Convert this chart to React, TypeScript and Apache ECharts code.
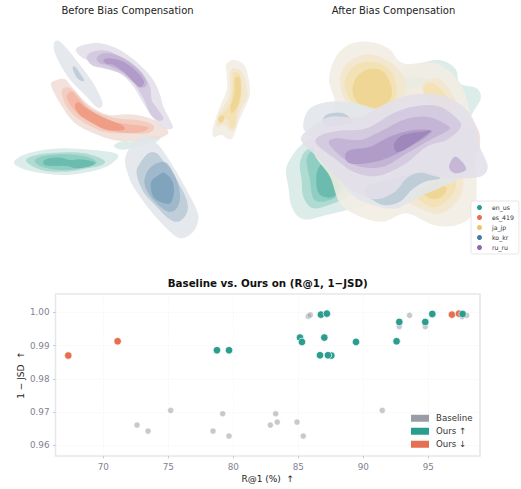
import React, { useEffect, useRef } from "react";
import * as echarts from "echarts";

type P = number[][];

const languages = ["en_us", "es_419", "ja_jp", "ko_kr", "ru_ru"];
const langColors = ["#2a9d8f", "#e76f51", "#e9c46a", "#457b9d", "#8e6bb0"];
const layerColors: Record<string, string[]> = {
  en_us: ["#d6e9e6", "#a9d8cf", "#8accc0", "#66b9ab"],
  es_419: ["#f1ddd7", "#f3c9bc", "#f2b5a3", "#ef9882"],
  ja_jp: ["#f2ede2", "#f3e7cc", "#f2e0b3", "#efd48f"],
  ko_kr: ["#e1e6ea", "#b9cad6", "#9bb5c8", "#7ca0b9"],
  ru_ru: ["#e3dfe9", "#d2c7de", "#c1b0d3", "#ae97c6", "#9b84b8"],
};

// contour = [level, points] in the embedding space of each panel
type Contour = { level: number; pts: P };

const beforeEn: Contour[] = [
  { level: 0, pts: [[42,488],[70,465],[130,450],[200,445],[280,450],[340,458],[355,468],[345,482],[320,500],[270,515],[200,525],[130,520],[70,507]] },
  { level: 0, pts: [[342,436],[365,424],[400,423],[430,412],[480,408],[470,425],[430,436],[380,448],[355,447]] },
  { level: 1, pts: [[78,480],[110,465],[170,458],[240,458],[290,470],[315,485],[300,497],[260,505],[200,515],[140,513],[100,500]] },
  { level: 2, pts: [[105,480],[130,468],[180,463],[230,465],[270,473],[290,487],[275,498],[240,505],[190,510],[145,505],[115,495]] },
  { level: 3, pts: [[130,485],[145,475],[180,473],[210,480],[240,478],[270,482],[285,490],[265,500],[230,505],[200,498],[160,498],[135,495]] },
];
const beforeEs: Contour[] = [
  { level: 0, pts: [[153,255],[170,240],[195,238],[215,260],[250,300],[290,330],[330,345],[390,343],[440,352],[480,370],[505,395],[490,410],[450,420],[400,423],[340,420],[270,395],[220,365],[180,310]] },
  { level: 1, pts: [[185,275],[200,262],[225,275],[260,315],[300,340],[350,355],[410,360],[450,370],[462,385],[440,400],[380,400],[310,395],[240,360],[200,320]] },
  { level: 2, pts: [[200,290],[215,275],[235,295],[270,330],[320,360],[380,372],[430,378],[445,385],[420,397],[360,397],[300,380],[245,350],[215,320]] },
  { level: 3, pts: [[225,320],[235,307],[260,325],[310,352],[365,375],[370,390],[320,390],[270,365],[240,345]] },
];
const beforeJa: Contour[] = [
  { level: 0, pts: [[678,195],[695,180],[720,185],[738,205],[750,265],[745,300],[722,350],[700,410],[685,418],[665,405],[640,410],[640,380],[660,320],[680,270],[680,220]] },
  { level: 1, pts: [[690,220],[700,205],[725,215],[738,250],[742,290],[720,335],[705,385],[690,392],[672,375],[650,380],[655,345],[685,295],[690,260]] },
  { level: 2, pts: [[700,220],[720,225],[725,260],[722,300],[710,340],[705,380],[690,382],[685,360],[665,350],[690,310],[697,270]] },
  { level: 3, pts: [[705,235],[720,235],[722,280],[712,320],[695,340],[692,320],[703,280]] },
  { level: 3, pts: [[655,355],[668,345],[672,360],[660,370]] },
];
const beforeKo: Contour[] = [
  { level: 0, pts: [[162,130],[175,122],[200,145],[240,195],[280,250],[305,300],[305,320],[290,322],[260,290],[220,250],[190,210],[165,160]] },
  { level: 1, pts: [[218,205],[225,200],[240,220],[252,240],[245,243],[230,232]] },
  { level: 0, pts: [[375,480],[385,450],[410,425],[430,405],[450,415],[480,440],[520,500],[560,570],[590,630],[595,660],[580,695],[545,715],[510,695],[450,630],[400,560],[380,510]] },
  { level: 1, pts: [[410,520],[420,490],[445,460],[470,460],[495,490],[530,540],[560,600],[560,640],[535,665],[505,655],[470,620],[430,575]] },
  { level: 2, pts: [[433,545],[445,510],[470,490],[500,490],[530,540],[540,590],[530,625],[505,635],[475,615],[445,580]] },
  { level: 3, pts: [[452,560],[457,540],[485,520],[495,520],[515,540],[522,575],[510,610],[480,605],[460,590]] },
];
const beforeRu: Contour[] = [
  { level: 0, pts: [[227,150],[250,135],[300,130],[360,150],[420,195],[460,240],[480,285],[490,320],[515,370],[517,385],[495,385],[460,355],[430,310],[400,260],[360,220],[300,195],[250,175]] },
  { level: 1, pts: [[260,170],[285,153],[330,155],[380,185],[425,220],[450,260],[455,300],[475,330],[490,355],[475,362],[450,340],[430,295],[400,250],[360,220],[310,205],[275,195]] },
  { level: 2, pts: [[290,175],[310,160],[350,165],[395,190],[430,225],[440,255],[420,262],[400,245],[365,215],[320,195],[300,190]] },
  { level: 3, pts: [[310,180],[330,175],[370,185],[410,215],[432,245],[420,262],[400,245],[370,215],[340,195],[320,192]] },
];

const afterEn: Contour[] = [
  { level: 0, pts: [[78,510],[95,470],[130,430],[200,390],[300,340],[370,270],[430,210],[530,180],[585,205],[600,250],[650,265],[662,295],[640,335],[600,400],[560,480],[500,540],[420,590],[300,620],[200,645],[130,658],[95,620],[85,560]] },
  { level: 1, pts: [[120,490],[140,450],[190,440],[240,480],[270,550],[260,590],[220,610],[160,625],[130,590],[125,540]] },
  { level: 2, pts: [[140,480],[160,450],[200,450],[240,500],[255,560],[230,590],[190,605],[160,595],[150,540]] },
  { level: 3, pts: [[170,520],[190,490],[220,510],[240,560],[220,590],[190,590],[172,570]] },
  { level: 1, pts: [[380,260],[440,230],[505,240],[510,265],[470,285],[420,290]] },
];
const afterEs: Contour[] = [
  { level: 0, pts: [[470,260],[540,270],[600,330],[650,380],[660,430],[640,470],[560,520],[440,540],[360,480],[380,380],[420,300]] },
];
const afterJa: Contour[] = [
  { level: 0, pts: [[207,240],[225,175],[265,135],[325,125],[385,145],[430,190],[530,190],[600,250],[630,340],[640,450],[650,560],[640,640],[590,675],[520,675],[440,640],[370,665],[300,650],[240,610],[210,530],[160,450],[200,360],[225,310]] },
  { level: 1, pts: [[240,240],[262,190],[320,163],[380,180],[425,220],[440,265],[420,310],[380,335],[320,345],[260,310]] },
  { level: 2, pts: [[255,240],[280,200],[330,185],[385,205],[410,260],[395,310],[340,330],[285,315],[260,280]] },
  { level: 3, pts: [[278,260],[295,225],[330,207],[370,215],[395,265],[385,305],[340,325],[300,315],[282,290]] },
  { level: 1, pts: [[490,250],[530,235],[570,270],[590,330],[530,340],[495,300]] },
  { level: 2, pts: [[490,265],[520,250],[560,290],[570,330],[520,320]] },
  { level: 1, pts: [[440,600],[470,570],[560,500],[605,520],[605,580],[570,625],[530,642],[480,625]] },
  { level: 2, pts: [[465,580],[520,540],[580,520],[585,570],[550,610],[510,620]] },
  { level: 3, pts: [[490,575],[530,545],[560,565],[545,590],[520,597],[500,590]] },
];
const afterKo: Contour[] = [
  { level: 0, pts: [[130,370],[150,325],[210,305],[290,310],[370,330],[480,320],[560,340],[640,400],[640,500],[590,540],[480,590],[410,625],[340,615],[270,580],[220,500],[190,440],[140,400]] },
  { level: 1, pts: [[188,360],[205,342],[250,340],[280,368],[240,375],[200,380]] },
  { level: 1, pts: [[320,585],[370,615],[420,605],[455,570],[495,545],[540,535],[510,518],[470,518],[420,530],[360,545],[320,560]] },
];
const afterRu: Contour[] = [
  { level: 0, pts: [[123,420],[150,385],[210,350],[300,350],[380,310],[450,285],[540,285],[610,320],[645,370],[660,440],[683,500],[660,530],[590,535],[530,530],[480,518],[440,535],[405,575],[350,598],[290,580],[245,545],[210,510],[170,470]] },
  { level: 1, pts: [[168,430],[185,405],[240,392],[320,385],[400,340],[470,318],[540,320],[595,360],[600,385],[560,420],[500,440],[430,495],[350,528],[280,515],[230,480]] },
  { level: 2, pts: [[207,430],[230,415],[300,420],[360,395],[430,360],[500,350],[560,375],[565,390],[510,420],[440,460],[370,500],[300,500],[250,475]] },
  { level: 3, pts: [[255,470],[270,450],[330,440],[390,410],[450,392],[510,390],[505,405],[450,440],[380,475],[320,490],[270,490]] },
  { level: 4, pts: [[403,430],[430,405],[490,395],[510,395],[440,445],[410,455]] },
  { level: 2, pts: [[568,495],[585,470],[610,490],[617,510],[590,520],[572,512]] },
];

const baselinePts: P = [
  [72.59,0.9661],[73.44,0.9643],[75.18,0.9705],[78.44,0.9643],[79.18,0.9695],[79.67,0.9628],
  [82.85,0.9661],[83.26,0.9695],[83.38,0.967],[84.9,0.967],[85.38,0.9628],[91.46,0.9705],
  [85.77,0.9988],[85.92,0.9992],[93.56,0.9991],[92.77,0.9957],[94.77,0.9957],[97.6,0.9987],[97.95,0.9991],
];
const oursUpPts: P = [
  [78.74,0.9886],[79.67,0.9886],[86.74,0.9993],[87.2,0.9996],[95.31,0.9995],[97.64,0.9995],
  [92.77,0.9971],[94.77,0.9971],[85.13,0.9924],[85.28,0.9911],[87,0.9924],[89.44,0.9911],
  [92.56,0.9913],[86.67,0.9871],[87.54,0.987],[87.28,0.9871],
];
const oursDownPts: P = [[67.3,0.987],[71.1,0.9913],[96.82,0.9993],[97.36,0.9996]];

const xTicks = [70, 75, 80, 85, 90, 95];
const yTicks = [0.96, 0.97, 0.98, 0.99, 1.0];
const font = "DejaVu Sans";

// closed Catmull-Rom outline through the pixel positions given by the axes
function smoothClosed(points: number[][]) {
  const out: number[][] = [];
  const n = points.length;
  const steps = 8;
  for (let i = 0; i < n; i++) {
    const p0 = points[(i - 1 + n) % n];
    const p1 = points[i];
    const p2 = points[(i + 1) % n];
    const p3 = points[(i + 2) % n];
    for (let s = 0; s < steps; s++) {
      const t = s / steps;
      const t2 = t * t;
      const t3 = t2 * t;
      out.push([0, 1].map((k) =>
        0.5 * (2 * p1[k] + (p2[k] - p0[k]) * t + (2 * p0[k] - 5 * p1[k] + 4 * p2[k] - p3[k]) * t2 + (3 * p1[k] - p0[k] - 3 * p2[k] + p3[k]) * t3)
      ));
    }
  }
  return out;
}

function kde(name: string, color: string, axisIndex: number, contours: Contour[]) {
  const layers = layerColors[name];
  return {
    type: "custom",
    name,
    xAxisIndex: axisIndex,
    yAxisIndex: axisIndex,
    silent: true,
    clip: false,
    itemStyle: { color },
    data: contours.map((c) => c.pts[0]),
    renderItem: (params: any, api: any) => {
      const c = contours[params.dataIndex];
      return {
        type: "polygon",
        shape: { points: smoothClosed(c.pts.map((p) => api.coord(p))) },
        style: { fill: layers[c.level], opacity: 0.88 },
      };
    },
  };
}

function hiddenAxes(gridIndex: number, xMax: number, yMax: number) {
  return {
    x: { type: "value", gridIndex, min: 0, max: xMax, show: false },
    y: { type: "value", gridIndex, min: 0, max: yMax, inverse: true, show: false },
  };
}

function dots(name: string, data: P, color: string, opacity: number, size: number) {
  return {
    type: "scatter",
    name,
    xAxisIndex: 2,
    yAxisIndex: 2,
    data,
    symbolSize: size,
    itemStyle: { color, opacity, borderColor: "#ffffff", borderWidth: 0.7 },
    silent: true,
  };
}

export default function App() {
  const ref = useRef<HTMLDivElement>(null);
  useEffect(() => {
    const chart = echarts.init(ref.current!, null, { renderer: "svg" });
    const a = hiddenAxes(0, 780, 750);
    const b = hiddenAxes(1, 783, 780);
    const tick = { show: true, length: 2.5, lineStyle: { color: "#b5b7bf", width: 0.7 } };
    chart.setOption({
      animation: false,
      backgroundColor: "#ffffff",
      title: [
        { text: "Before Bias Compensation", left: 127.5, top: 5.5, padding: 0, textAlign: "center", textStyle: { fontFamily: font, fontSize: 10, fontWeight: "normal", color: "#222222" } },
        { text: "After Bias Compensation", left: 393.5, top: 5.5, padding: 0, textAlign: "center", textStyle: { fontFamily: font, fontSize: 10, fontWeight: "normal", color: "#222222" } },
        { text: "Baseline vs. Ours on (R@1, 1\u2212JSD)", left: 267.7, top: 278, padding: 0, textAlign: "center", textStyle: { fontFamily: font, fontSize: 10.3, fontWeight: "bold", color: "#111111" } },
      ],
      grid: [
        { left: 0, top: 0, width: 260, height: 250 },
        { left: 260, top: 0, width: 261, height: 260 },
        { left: 55.5, top: 294, width: 424.5, height: 162, show: true, borderColor: "#e6e7ea", borderWidth: 1.6, backgroundColor: "transparent" },
      ],
      xAxis: [
        a.x,
        b.x,
        {
          type: "value", gridIndex: 2, min: 66.32, max: 98.98,
          name: "R@1 (%)  \u2191", nameLocation: "middle", nameGap: 18,
          nameTextStyle: { fontFamily: font, fontSize: 9, color: "#222222" },
          axisLine: { show: false },
          axisTick: { ...tick, customValues: xTicks },
          axisLabel: { customValues: xTicks, fontFamily: font, fontSize: 8.8, color: "#7f8290", margin: 6, formatter: (v: number) => String(v) },
          splitLine: { show: true, lineStyle: { color: "#f3f3f5", width: 0.6, type: "dashed" } },
        },
      ],
      yAxis: [
        a.y,
        b.y,
        {
          type: "value", gridIndex: 2, min: 0.9568, max: 1.0055,
          name: "1 \u2212 JSD  \u2191", nameLocation: "middle", nameGap: 30, nameRotate: 90, nameMoveOverlap: false,
          nameTextStyle: { fontFamily: font, fontSize: 9, color: "#222222" },
          axisLine: { show: false },
          axisTick: { ...tick, customValues: yTicks },
          axisLabel: { customValues: yTicks, fontFamily: font, fontSize: 8.8, color: "#7f8290", margin: 6, formatter: (v: number) => v.toFixed(2) },
          splitLine: { show: true, lineStyle: { color: "#f3f3f5", width: 0.6, type: "dashed" } },
        },
      ],
      legend: [
        {
          data: languages,
          orient: "vertical", left: 471, top: 201,
          padding: [3, 5, 3, 6], itemGap: 3, itemWidth: 5, itemHeight: 5, icon: "circle",
          backgroundColor: "#ffffff", borderColor: "#dddddd", borderWidth: 0.7, borderRadius: 2,
          textStyle: { fontFamily: font, fontSize: 6.2, color: "#333333", padding: [0, 0, 0, 5], lineHeight: 7 },
          selectedMode: false,
        },
        {
          data: ["Baseline", "Ours \u2191", "Ours \u2193"],
          orient: "vertical", left: 411, top: 413.5, padding: 0,
          itemGap: 3.5, itemWidth: 18, itemHeight: 7, icon: "rect",
          itemStyle: { opacity: 1, borderWidth: 0 },
          textStyle: { fontFamily: font, fontSize: 8.6, color: "#333333", padding: [0, 0, 0, 2], lineHeight: 9.5 },
          selectedMode: false,
        },
      ],
      series: [
        kde("en_us", langColors[0], 0, beforeEn),
        kde("es_419", langColors[1], 0, beforeEs),
        kde("ja_jp", langColors[2], 0, beforeJa),
        kde("ko_kr", langColors[3], 0, beforeKo),
        kde("ru_ru", langColors[4], 0, beforeRu),
        kde("en_us", langColors[0], 1, afterEn),
        kde("es_419", langColors[1], 1, afterEs),
        kde("ja_jp", langColors[2], 1, afterJa),
        kde("ko_kr", langColors[3], 1, afterKo),
        kde("ru_ru", langColors[4], 1, afterRu),
        dots("Baseline", baselinePts, "#9a9da6", 0.55, 6),
        dots("Ours \u2193", oursDownPts, "#e76f51", 1, 7.5),
        dots("Ours \u2191", oursUpPts, "#2a9d8f", 1, 7.5),
      ],
    });
    return () => chart.dispose();
  }, []);
  return <div ref={ref} style={{ position: "absolute", left: 0, top: 0, width: 521, height: 489 }} />;
}
